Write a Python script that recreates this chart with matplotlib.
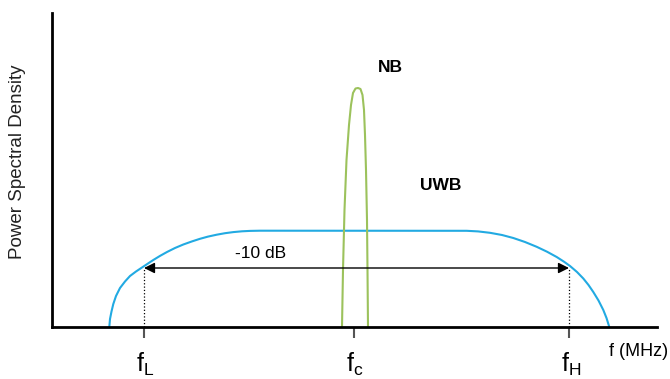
import matplotlib.pyplot as plt

plt.rcParams['font.family'] = ['Liberation Sans', 'DejaVu Sans']
plt.rcParams['mathtext.fontset'] = 'custom'
plt.rcParams['mathtext.rm'] = 'Liberation Sans'

# UWB spectrum (frequency, PSD), arbitrary units
uwb_f = [57.3, 58, 59.5, 61.3, 64, 68, 73, 78, 84, 89.7, 96, 101.3, 108, 115, 123,
         131.3, 140, 148, 156, 164.7, 173, 181.3, 190, 198, 208,
         414.7, 426, 438, 450, 461.3, 473, 484.7, 495, 504.7, 512, 518, 525, 531.3,
         536.5, 541.3, 546.5, 551.3, 554.5, 557.3]
uwb_p = [0, 8, 15.5, 23, 31, 39, 45.5, 51, 55.5, 59.3, 63.5, 67, 71.1, 75, 79,
         82.5, 85.6, 88.2, 90.4, 92.3, 93.8, 94.9, 95.7, 96.1, 96.3,
         96.2, 95.6, 94.2, 92, 89, 85, 80.2, 75.3, 70, 65.3, 61, 55, 48.5,
         42, 35, 26.5, 17, 9, 0]

# narrowband spectrum
nb_f = [290, 291, 292.5, 294.5, 297, 299, 301, 303.5, 306, 308.5, 310.5, 312, 313, 314, 315, 315.5, 316]
nb_p = [0, 57, 117, 167, 202, 222, 234, 238.5, 239, 238, 232, 217, 192, 157, 107, 57, 0]

# marker frequencies and the -10 dB level
tick_pos = [92, 302, 517]
tick_names = [r'$\mathrm{f}_\mathrm{L}$', r'$\mathrm{f}_\mathrm{c}$', r'$\mathrm{f}_\mathrm{H}$']
level_10db = 59

fig = plt.figure(figsize=(6.7, 3.79), dpi=100)
ax = fig.add_axes([52 / 670, 52 / 379, 605 / 670, 314 / 379])
ax.set_xlim(0, 605)
ax.set_ylim(0, 314)

ax.plot(uwb_f, uwb_p, color='#22aae2', lw=1.5, solid_capstyle='round')
ax.plot(nb_f, nb_p, color='#9cc25c', lw=1.5)

# -10 dB bandwidth arrow and dotted drops
ax.annotate('', xy=(tick_pos[2], level_10db), xytext=(tick_pos[0], level_10db),
            arrowprops=dict(arrowstyle='<|-|>', color='black', lw=1.0,
                            mutation_scale=16, shrinkA=0, shrinkB=0))
ax.vlines([tick_pos[0], tick_pos[2]], 0, level_10db, colors='black',
          linestyles=':', lw=0.9)

for s in ['top', 'right']:
    ax.spines[s].set_visible(False)
for s in ['left', 'bottom']:
    ax.spines[s].set_linewidth(2)
    ax.spines[s].set_color('black')

ax.set_yticks([])
ax.set_xticks(tick_pos)
ax.set_xticklabels([])
ax.tick_params(axis='x', direction='out', length=8, width=1.5, color='#555555')

ax.text(338, 260, 'NB', fontsize=12.5, fontweight='bold', ha='center', va='center')
ax.text(389, 142, 'UWB', fontsize=12.5, fontweight='bold', ha='center', va='center')
ax.text(209, 74, '-10 dB', fontsize=12.5, ha='center', va='center')
ax.text(557, -25, 'f (MHz)', fontsize=13, ha='left', va='center', clip_on=False)
ax.text(-34, 165, 'Power Spectral Density', fontsize=13.5, rotation=90,
        ha='center', va='center', color='#222222', clip_on=False)

for x, name in zip(tick_pos, tick_names):
    ax.text(x - 8, -45, name, fontsize=18, ha='left', va='baseline', clip_on=False)

fig.savefig('out.png', dpi=100)
